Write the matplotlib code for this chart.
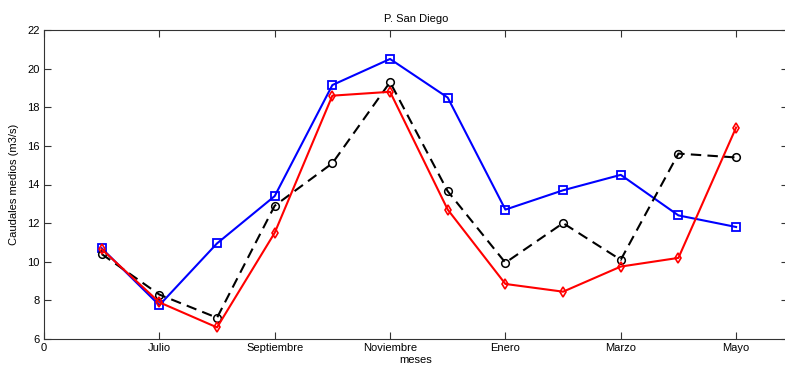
import matplotlib.pyplot as plt
import numpy as np

plt.rcParams['font.family'] = ['Liberation Sans', 'DejaVu Sans']

# meses 1..12 (Junio .. Mayo)
meses = np.arange(1, 13)
serie_azul = [10.7, 7.75, 10.95, 13.4, 19.15, 20.5, 18.5, 12.7, 13.7, 14.5, 12.4, 11.8]
serie_negra = [10.4, 8.3, 7.1, 12.9, 15.1, 19.3, 13.65, 9.95, 12.0, 10.1, 15.6, 15.4]
serie_roja = [10.65, 7.9, 6.6, 11.5, 18.6, 18.8, 12.7, 8.85, 8.45, 9.75, 10.2, 16.95]

tick_pos = [0, 2, 4, 6, 8, 10, 12]
tick_lab = ['0', 'Julio', 'Septiembre', 'Noviembre', 'Enero', 'Marzo', 'Mayo']

fig = plt.figure(figsize=(7.85, 3.69), dpi=100)
# the original is cropped: right border of the box sits just past the edge
ax = fig.add_axes([44/785, 1 - 339/369, (788 - 44)/785, (339 - 30)/369])

ax.plot(meses, serie_azul, '-s', color='#0000ff', lw=1.5, ms=6,
        mfc='none', mew=1.3)
ax.plot(meses, serie_negra, '--o', color='black', lw=1.5, ms=5.5,
        mfc='none', mew=1.1, dashes=(5, 3))
ax.plot(meses, serie_roja, '-d', color='#ff0000', lw=1.5, ms=5,
        mfc='none', mew=1.2)

ax.set_xlim(0, 12.9)
ax.set_ylim(6, 22)
ax.set_xticks(tick_pos)
ax.set_xticklabels(tick_lab)
ax.set_yticks(range(6, 23, 2))
ax.tick_params(direction='in', top=True, right=True, length=5,
               labelsize=8, color='#333333', pad=3)
for s in ax.spines.values():
    s.set_color('#333333')
    s.set_linewidth(0.8)

ax.set_title('P. San Diego', fontsize=8, pad=6)
ax.set_xlabel('meses', fontsize=8, labelpad=1)
ax.set_ylabel('Caudales medios (m3/s)', fontsize=8, labelpad=6)

fig.savefig('out.png', dpi=100)
